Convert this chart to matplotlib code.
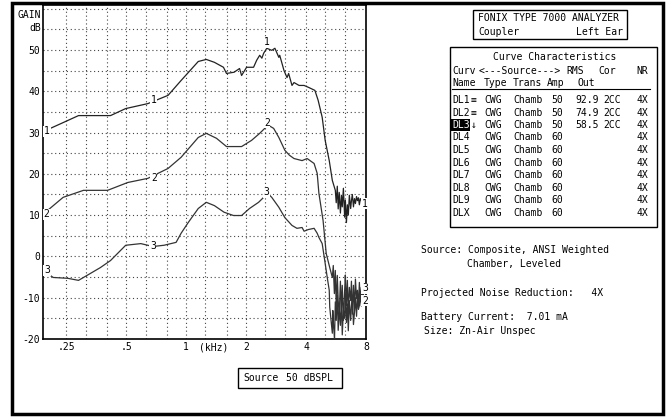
import matplotlib.pyplot as plt
import matplotlib.ticker as mticker
from matplotlib.patches import Rectangle

W, H = 668, 417

# curve 1
freq1 = [0.191, 0.241, 0.288, 0.417, 0.497, 0.642, 0.811, 0.943, 1.150, 1.262, 1.386, 1.539,
         1.594, 1.740, 1.854, 1.898, 2.011, 2.180, 2.260, 2.340, 2.400, 2.450, 2.540, 2.690,
         2.790, 2.920, 2.950, 3.100, 3.210, 3.270, 3.400, 3.480, 3.690, 3.910, 4.130, 4.430,
         4.600, 4.820, 4.990, 5.230, 5.420,
         5.61, 5.67, 5.74, 5.80, 5.87, 5.95, 6.02, 6.08, 6.16, 6.25,
         6.30, 6.38, 6.45, 6.52, 6.60, 6.70, 6.76, 6.83, 6.92, 7.00,
         7.08, 7.17, 7.25, 7.33, 7.41, 7.49, 7.58, 7.68, 7.76, 7.85]
gain1 = [30.2, 32.4, 34.1, 34.1, 35.8, 37.0, 39.0, 42.6, 47.2, 47.7, 47.0, 45.8,
         44.3, 44.6, 45.5, 43.8, 45.8, 45.8, 47.5, 48.7, 48.0, 49.2, 50.4, 49.9,
         50.4, 48.2, 48.7, 45.0, 43.3, 44.3, 41.4, 42.1, 41.4, 41.4, 40.9, 40.2,
         37.8, 33.7, 28.1, 23.2, 18.4,
         16.0, 13.0, 17.0, 11.5, 15.5, 10.5, 14.8, 12.0, 16.5, 9.5,
         13.6, 8.2, 12.5, 10.0, 14.8, 11.6, 13.5, 15.0, 12.0, 14.0,
         12.8, 14.5, 13.5, 14.2, 12.5, 14.0, 13.6, 12.3, 13.0, 12.3]

# curve 2
freq2 = [0.191, 0.241, 0.305, 0.403, 0.509, 0.642, 0.811, 0.943, 1.150, 1.262, 1.420, 1.594,
         1.898, 2.130, 2.340, 2.480, 2.600, 2.750, 2.920, 3.130, 3.300, 3.480, 3.820, 4.050,
         4.390, 4.550, 4.640, 4.870, 5.050, 5.260,
         5.42, 5.48, 5.55, 5.61, 5.67, 5.74, 5.80, 5.87, 5.95, 6.02,
         6.08, 6.16, 6.25, 6.30, 6.38, 6.45, 6.52, 6.60, 6.70, 6.76,
         6.83, 6.92, 7.00, 7.08, 7.17, 7.25, 7.33, 7.41, 7.49, 7.58,
         7.68, 7.76, 7.85]
gain2 = [10.2, 14.3, 16.0, 16.0, 17.9, 18.9, 21.3, 24.0, 28.8, 29.8, 28.6, 26.6,
         26.6, 28.1, 29.8, 31.0, 31.7, 31.0, 28.8, 25.7, 24.5, 23.7, 23.2, 23.7,
         22.5, 20.1, 15.3, 8.7, 0.7, -2.7,
         -5.1, -2.2, -9.0, -3.4, -12.0, -4.6, -10.7, -14.0, -6.0, -13.1,
         -7.0, -15.5, -8.2, -4.5, -11.9, -5.8, -13.5, -7.5, -10.7, -6.0,
         -14.0, -7.0, -13.1, -5.5, -10.2, -8.2, -12.5, -6.3, -11.0, -7.5,
         -10.2, -9.0, -10.7]

# curve 3
freq3 = [0.191, 0.215, 0.254, 0.288, 0.331, 0.371, 0.417, 0.497, 0.592, 0.681, 0.774, 0.890,
         0.943, 1.024, 1.150, 1.262, 1.386, 1.550, 1.729, 1.898, 2.080, 2.310, 2.450, 2.540,
         2.690, 2.920, 3.130, 3.400, 3.600, 3.820, 3.910, 4.100, 4.390, 4.550, 4.640, 4.820,
         4.990, 5.110, 5.230, 5.260,
         5.42, 5.45, 5.50, 5.56, 5.61, 5.67, 5.74, 5.80, 5.87, 5.95,
         6.02, 6.08, 6.16, 6.25, 6.30, 6.38, 6.45, 6.52, 6.60, 6.70,
         6.76, 6.83, 6.92, 7.00, 7.08, 7.17, 7.25, 7.33, 7.41, 7.49,
         7.58, 7.68, 7.76, 7.85]
gain3 = [-3.4, -5.1, -5.3, -5.8, -4.1, -2.7, -1.0, 2.7, 3.1, 2.4, 2.7, 3.4,
         5.6, 8.2, 11.6, 13.1, 12.3, 10.7, 9.9, 9.9, 11.6, 13.1, 14.3, 15.5,
         14.3, 11.9, 9.4, 7.5, 6.8, 7.0, 6.1, 6.5, 6.8, 5.6, 4.6, 3.1,
         -1.7, -5.1, -8.2, -12.3,
         -18.6, -13.1, -17.0, -20.0, -11.0, -15.5, -9.4, -17.9, -12.5, -16.7,
         -10.2, -19.0, -13.0, -15.0, -9.0, -16.0, -11.5, -18.0, -10.7, -15.5,
         -12.0, -9.7, -16.5, -13.6, -10.0, -14.5, -9.4, -12.8, -11.9, -8.7,
         -12.0, -9.5, -8.2, -7.7]

# curve labels (freq, gain, text)
lab_f = [0.200, 0.689, 2.540, 7.90, 0.198, 0.689, 2.540, 7.90, 0.200, 0.681, 2.540, 7.90]
lab_g = [30.3, 37.8, 51.8, 12.8, 10.2, 18.9, 32.4, -10.7, -3.4, 2.4, 15.5, -7.7]
lab_t = ['1', '1', '1', '1', '2', '2', '2', '2', '3', '3', '3', '3']

grid_f = [0.25, 0.315, 0.4, 0.5, 0.63, 0.8, 1, 1.25, 1.6, 2, 2.5, 3.15, 4, 5, 6.3]
xtick_f = [0.25, 0.5, 1, 2, 4, 8]
xtick_lab = ['.25', '.5', '1', '2', '4', '8']
ytick_db = [-20, -10, 0, 10, 20, 30, 40, 50]

# table
names = ['DL1', 'DL2', 'DL3', 'DL4', 'DL5', 'DL6', 'DL7', 'DL8', 'DL9', 'DLX']
marks = ['\u2261', '\u2261', '\u2193', '', '', '', '', '', '', '']
types = ['CWG'] * 10
trans = ['Chamb'] * 10
amps = ['50', '50', '50', '60', '60', '60', '60', '60', '60', '60']
outs = ['92.9', '74.9', '58.5', '', '', '', '', '', '', '']
cors = ['2CC', '2CC', '2CC', '', '', '', '', '', '', '']
nrs = ['4X'] * 10

plt.rcParams['font.family'] = ['DejaVu Sans Mono']
fs = 7

fig = plt.figure(figsize=(W / 100, H / 100), dpi=100)

bg = fig.add_axes([0, 0, 1, 1])
bg.set_xlim(0, W)
bg.set_ylim(H, 0)
bg.axis('off')

ax = fig.add_axes([43 / W, 1 - 339 / H, (366 - 43) / W, (339 - 4.5) / H])
ax.set_xscale('log')
ax.set_xlim(0.191, 8.0)
ax.set_ylim(-20, 61)

for f in grid_f:
    ax.axvline(f, color='#444444', lw=0.8, ls=(0, (1, 2.5)), zorder=1)
for g in range(-15, 65, 5):
    ax.axhline(g, color='#444444', lw=0.8, ls=(0, (1, 2.5)), zorder=1)

ax.plot(freq1, gain1, color='#222222', lw=0.9, zorder=3)
ax.plot(freq2, gain2, color='#333333', lw=0.9, zorder=3)
ax.plot(freq3, gain3, color='#333333', lw=0.9, zorder=3)

for f, g, t in zip(lab_f, lab_g, lab_t):
    ax.text(f, g, t, fontsize=fs, ha='center', va='center', zorder=4,
            bbox=dict(fc='white', ec='none', pad=0.4))

ax.xaxis.set_major_locator(mticker.FixedLocator(xtick_f))
ax.xaxis.set_major_formatter(mticker.FixedFormatter(xtick_lab))
ax.xaxis.set_minor_locator(mticker.NullLocator())
ax.set_yticks(ytick_db)
ax.set_yticklabels([str(v) for v in ytick_db])
ax.tick_params(length=0, labelsize=fs, pad=2)
for s in ax.spines.values():
    s.set_linewidth(1.2)
ax.text(1.38, -0.024, '(kHz)', transform=ax.get_xaxis_transform(),
        fontsize=fs, ha='center', va='center')

bg.text(41, 15, 'GAIN', fontsize=fs, ha='right', va='center')
bg.text(41, 28, 'dB', fontsize=fs, ha='right', va='center')

# outer frame
bg.add_patch(Rectangle((12, 3), 651, 411, fill=False, lw=2.5, ec='black'))

# analyzer box
bg.add_patch(Rectangle((473, 10), 154, 29, fill=False, lw=1, ec='black'))
bg.text(478, 18, 'FONIX TYPE 7000 ANALYZER', fontsize=fs, va='center')
bg.text(478, 32, 'Coupler', fontsize=fs, va='center')
bg.text(623, 32, 'Left Ear', fontsize=fs, va='center', ha='right')

# curve table
bg.add_patch(Rectangle((450, 47), 207, 180, fill=False, lw=1, ec='black'))
bg.text(555, 57, 'Curve Characteristics', fontsize=fs, va='center', ha='center')
bg.text(452, 71, 'Curv', fontsize=fs, va='center')
bg.text(479, 71, '<---Source--->', fontsize=fs, va='center')
bg.text(566, 71, 'RMS', fontsize=fs, va='center')
bg.text(598, 71, 'Cor', fontsize=fs, va='center')
bg.text(648, 71, 'NR', fontsize=fs, va='center', ha='right')
for x, t in zip([452, 484, 513, 547, 577], ['Name', 'Type', 'Trans', 'Amp', 'Out']):
    bg.text(x, 83, t, fontsize=fs, va='center')
bg.plot([452, 650], [89, 89], color='black', lw=0.8)

for i in range(len(names)):
    y = 100 + 12.5 * i
    if marks[i] == '\u2193':
        bg.text(452, y, names[i], fontsize=fs, va='center', color='white',
                bbox=dict(fc='black', ec='none', pad=0.5))
    else:
        bg.text(452, y, names[i], fontsize=fs, va='center')
    bg.text(471, y, marks[i], fontsize=fs, va='center')
    bg.text(484, y, types[i], fontsize=fs, va='center')
    bg.text(513, y, trans[i], fontsize=fs, va='center')
    bg.text(551, y, amps[i], fontsize=fs, va='center')
    bg.text(575, y, outs[i], fontsize=fs, va='center')
    bg.text(603, y, cors[i], fontsize=fs, va='center')
    bg.text(648, y, nrs[i], fontsize=fs, va='center', ha='right')

bg.text(421, 250, 'Source: Composite, ANSI Weighted', fontsize=fs, va='center')
bg.text(467, 264, 'Chamber, Leveled', fontsize=fs, va='center')
bg.text(421, 293, 'Projected Noise Reduction:   4X', fontsize=fs, va='center')
bg.text(421, 317, 'Battery Current:  7.01 mA', fontsize=fs, va='center')
bg.text(424, 331, 'Size: Zn-Air Unspec', fontsize=fs, va='center')

# source level box
bg.add_patch(Rectangle((238, 368), 104, 20, fill=False, lw=1, ec='black'))
bg.text(243, 378, 'Source', fontsize=fs, va='center')
bg.text(286, 378, '50 dBSPL', fontsize=fs, va='center')

fig.savefig('out.png', dpi=100)
